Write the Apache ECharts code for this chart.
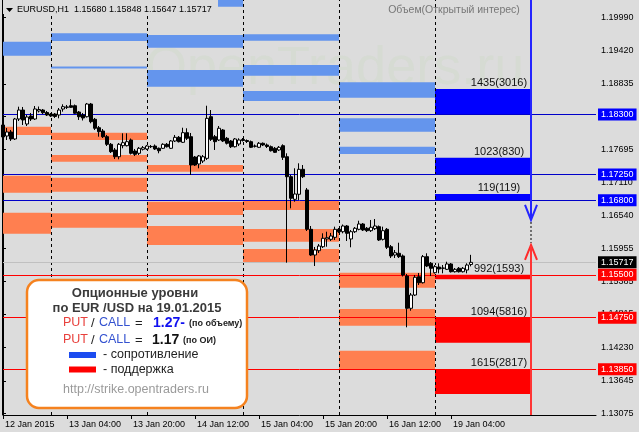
<!DOCTYPE html>
<html><head><meta charset="utf-8">
<script src="https://cdn.jsdelivr.net/npm/echarts@6/dist/echarts.min.js"></script>
<style>html,body{margin:0;padding:0;background:#dcdcdc}#c{width:639px;height:432px}</style>
</head><body><div id="c"></div>
<script>
// ---------- DATA ----------
const symbolTitle = 'EURUSD,H1';
const xLabels = ['12 Jan 2015','13 Jan 04:00','13 Jan 20:00','14 Jan 12:00','15 Jan 04:00','15 Jan 20:00','16 Jan 12:00','19 Jan 04:00'];
const xLabelBars = [0,16,32,48,64,80,96,112];
const yTicks = [1.19990,1.19420,1.18835,1.18265,1.17695,1.17110,1.16540,1.15955,1.15385,1.14815,1.14230,1.13645,1.13075];
const daySeparators = [12,36,60,84,108];
const dayBounds = [0,12,36,60,84,108,132];
// hourly candles: [open, close, low, high]
const ohlc = [
[1.18116,1.17907,1.17872,1.18169],[1.17924,1.17994,1.17854,1.18064],[1.17994,1.17872,1.17837,1.18029],[1.17872,1.18221,1.17854,1.18239],
[1.18221,1.18378,1.18186,1.18436],[1.18378,1.18204,1.18116,1.18431],[1.18134,1.18256,1.18099,1.18291],[1.18273,1.18221,1.18186,1.18326],
[1.18221,1.18396,1.18204,1.18448],[1.18361,1.18387,1.18335,1.18439],[1.18378,1.18331,1.18308,1.18396],[1.18335,1.18291,1.18273,1.18361],
[1.18308,1.18273,1.18256,1.18326],[1.18308,1.18265,1.18239,1.18326],[1.18291,1.18378,1.18233,1.18413],[1.18396,1.18436,1.18349,1.18478],
[1.18425,1.18431,1.18396,1.18466],[1.18453,1.18425,1.18413,1.18565],[1.18453,1.18321,1.18308,1.18474],[1.18343,1.18261,1.18204,1.18361],
[1.18291,1.18239,1.18195,1.18326],[1.18261,1.18483,1.18247,1.18501],[1.18483,1.18174,1.18146,1.18501],[1.18216,1.18059,1.18029,1.18239],
[1.18069,1.17999,1.17912,1.18099],[1.18011,1.17912,1.17889,1.18046],[1.17912,1.17779,1.17749,1.17942],[1.17779,1.17650,1.17627,1.17802],
[1.17680,1.17562,1.17522,1.17714],[1.17562,1.17779,1.17517,1.17802],[1.17755,1.17807,1.17709,1.17971],[1.17755,1.17825,1.17741,1.17971],
[1.17854,1.17622,1.17601,1.17880],[1.17662,1.17604,1.17575,1.17697],[1.17622,1.17709,1.17592,1.17732],[1.17692,1.17720,1.17671,1.17749],
[1.17697,1.17749,1.17680,1.17767],[1.17737,1.17741,1.17714,1.17767],[1.17749,1.17697,1.17680,1.17776],[1.17709,1.17667,1.17622,1.17723],
[1.17709,1.17779,1.17697,1.17797],[1.17779,1.17737,1.17723,1.17802],[1.17709,1.17837,1.17697,1.17854],[1.17837,1.17901,1.17819,1.17942],
[1.17901,1.17825,1.17811,1.17924],[1.17814,1.17982,1.17802,1.18069],[1.17982,1.17884,1.17854,1.18059],[1.17912,1.17417,1.17243,1.17977],
[1.17557,1.17417,1.17400,1.17575],[1.17435,1.17575,1.17360,1.17592],[1.17487,1.17562,1.17452,1.17592],[1.17534,1.18233,1.17505,1.18453],
[1.18261,1.17866,1.17837,1.18378],[1.17912,1.17825,1.17680,1.17942],[1.17854,1.18059,1.17837,1.18099],[1.18029,1.17837,1.17819,1.18046],
[1.17884,1.17797,1.17776,1.17907],[1.17837,1.17737,1.17714,1.17854],[1.17737,1.17872,1.17723,1.17889],[1.17784,1.17854,1.17749,1.17884],
[1.17863,1.17845,1.17828,1.17889],[1.17845,1.17828,1.17802,1.17863],[1.17825,1.17727,1.17714,1.17845],[1.17744,1.17749,1.17723,1.17776],
[1.17727,1.17797,1.17714,1.17819],[1.17797,1.17767,1.17749,1.17811],[1.17767,1.17741,1.17714,1.17793],[1.17737,1.17667,1.17653,1.17758],
[1.17709,1.17639,1.17627,1.17732],[1.17680,1.17727,1.17662,1.17749],[1.17755,1.17552,1.17505,1.17779],[1.17562,1.17213,1.15711,1.17622],
[1.17213,1.16836,1.16661,1.17243],[1.16818,1.16911,1.16776,1.17360],[1.16906,1.17342,1.16806,1.17447],[1.17342,1.17213,1.17190,1.17417],
[1.16981,1.16294,1.16264,1.17016],[1.16294,1.15845,1.15828,1.16352],[1.15845,1.15933,1.15653,1.15985],[1.15920,1.16002,1.15880,1.16037],
[1.15990,1.16137,1.15967,1.16224],[1.16125,1.16147,1.15990,1.16252],[1.16119,1.16177,1.16090,1.16230],[1.16154,1.16294,1.16107,1.16340],
[1.16294,1.16252,1.16230,1.16317],[1.16252,1.16352,1.16224,1.16378],[1.16352,1.16224,1.16090,1.16369],[1.16125,1.16252,1.15980,1.16282],
[1.16252,1.16312,1.16230,1.16334],[1.16294,1.16387,1.16277,1.16444],[1.16387,1.16282,1.16264,1.16404],[1.16312,1.16270,1.16247,1.16334],
[1.16270,1.16329,1.16247,1.16457],[1.16305,1.16352,1.16282,1.16474],[1.16340,1.16107,1.16090,1.16361],[1.16119,1.16270,1.16098,1.16340],
[1.16294,1.15980,1.15950,1.16317],[1.15990,1.15828,1.15793,1.16020],[1.15845,1.15885,1.15793,1.15933],[1.15875,1.15816,1.15793,1.16060],
[1.15828,1.15496,1.15470,1.15854],[1.15478,1.14914,1.14582,1.15513],[1.14914,1.15146,1.14872,1.15181],[1.15146,1.15456,1.15129,1.15496],
[1.15466,1.15361,1.15321,1.15531],[1.15361,1.15816,1.15347,1.15845],[1.15816,1.15653,1.15635,1.15875],[1.15700,1.15613,1.15478,1.15723],
[1.15536,1.15641,1.15522,1.15670],[1.15635,1.15601,1.15525,1.15700],[1.15613,1.15618,1.15525,1.15670],[1.15595,1.15688,1.15583,1.15728],
[1.15688,1.15553,1.15539,1.15705],[1.15553,1.15595,1.15539,1.15618],[1.15613,1.15553,1.15539,1.15635],[1.15553,1.15613,1.15539,1.15635],
[1.15583,1.15670,1.15525,1.15700],[1.15680,1.15717,1.15647,1.15848]
];
// option zones of previous days: [day, low, high]
const callZones = [
[0,1.19327,1.19572],[1,1.19584,1.19718],[1,1.19103,1.19138],
[2,1.20183,1.20300],[2,1.19467,1.19689],[2,1.18785,1.19077],
[3,1.19589,1.19701],[3,1.18978,1.19164],[3,1.18536,1.18710],
[4,1.18593,1.18862],[4,1.17999,1.18233],[4,1.17610,1.17737]
];
const putZones = [
[0,1.17942,1.18087],[0,1.16933,1.17230],[0,1.16217,1.16584],
[1,1.17854,1.17982],[1,1.17475,1.17592],[1,1.16951,1.17196],[1,1.16322,1.16574],
[2,1.17300,1.17417],[2,1.16544,1.16776],[2,1.16020,1.16352],
[3,1.16631,1.16788],[3,1.16078,1.16299],[3,1.15711,1.15950],
[4,1.15274,1.15536],[4,1.14610,1.14902],[4,1.13848,1.14173]
];
// current day (19.01.2015)
const callLevels = [1.18300,1.17250,1.16800];
const callTops = [1.18745,1.17545,1.16911];
const callLabels = ['1435(3016)','1023(830)','119(119)'];
const putLevels = [1.15500,1.14750,1.13850];
const putBottoms = [1.15421,1.14313,1.13417];
const putLabels = ['992(1593)','1094(5816)','1615(2817)'];
const lastPrice = 1.15717;
const arrowBar = 132;
const arrowDownTip = 1.16457;
const arrowUpTip = 1.16020;
const ratioVolume = '1.27-';
const ratioOI = '1.17';
// ---------- CHART ----------
const F = 'Liberation Sans, Arial, sans-serif';
const AX = 9;
const chart = echarts.init(document.getElementById('c'), null, {renderer:'canvas'});
const zoneData = [];
callZones.forEach(z => zoneData.push([dayBounds[z[0]], dayBounds[z[0]+1], z[1], z[2], 0]));
putZones.forEach(z => zoneData.push([dayBounds[z[0]], dayBounds[z[0]+1], z[1], z[2], 1]));
const cd = 5;
callLevels.forEach((l,i) => zoneData.push([dayBounds[cd], dayBounds[cd+1], l, callTops[i], 2]));
putLevels.forEach((l,i) => zoneData.push([dayBounds[cd], dayBounds[cd+1], putBottoms[i], l, 3]));
const zoneColors = ['#6495ed','#ff7f50','#0000ff','#ff0000'];
const labelData = [];
callLevels.forEach((l,i) => labelData.push([124, callTops[i], callLabels[i]]));
putLevels.forEach((l,i) => labelData.push([124, l, putLabels[i]]));

function levelLine(v, lineColor, bg){
  return {yAxis:v, lineStyle:{color:lineColor,width:1,type:'solid'},
    label:{show:true, position:'end', distance:2, formatter: v.toFixed(5), color:'#fff', backgroundColor:bg,
      padding:[2,3,1,3], fontSize:AX, fontFamily:F, lineHeight:9}};
}
const markData = [];
daySeparators.forEach(d => markData.push({xAxis:d, lineStyle:{color:'#000',width:1,type:[3,3]}, label:{show:false}}));
markData.push(levelLine(lastPrice,'#c0c0c0','#000000'));
callLevels.forEach(v => markData.push(levelLine(v,'#0000c8','#0000ff')));
putLevels.forEach(v => markData.push(levelLine(v,'#ff0000','#ff0000')));

const last = ohlc[ohlc.length-1];
const header = symbolTitle + '  ' + [last[0], last[3], last[2], last[1]].map(v=>v.toFixed(5)).join(' ');

const option = {
  backgroundColor:'#dcdcdc',
  animation:false,
  grid:{left:3, right:43, top:0, bottom:17, containLabel:false},
  xAxis:{type:'value', min:0, max:148.25,
    axisLine:{show:true, lineStyle:{color:'#000',width:1}},
    axisTick:{show:true, customValues:xLabelBars, length:4, lineStyle:{color:'#000'}},
    axisLabel:{customValues:xLabelBars, formatter:v => xLabels[xLabelBars.indexOf(v)], align:'left', padding:[0,0,0,2],
      margin:5, fontSize:AX, fontFamily:F, color:'#000'},
    splitLine:{show:false}},
  yAxis:{type:'value', position:'right', min:1.1305, max:1.2030,
    axisLine:{show:true, lineStyle:{color:'#000',width:1}},
    axisTick:{show:true, customValues:yTicks, length:3, lineStyle:{color:'#000'}},
    axisLabel:{customValues:yTicks, formatter:v => v.toFixed(5), margin:5, fontSize:AX, fontFamily:F, color:'#000'},
    splitLine:{show:false}},
  series:[
    {type:'custom', z:1, clip:true, silent:true, data:zoneData,
     renderItem:(params, api) => {
       const p1 = api.coord([api.value(0), api.value(3)]);
       const p2 = api.coord([api.value(1), api.value(2)]);
       return {type:'rect', shape:{x:p1[0], y:p1[1], width:p2[0]-p1[0], height:p2[1]-p1[1]},
         style:{fill:zoneColors[api.value(4)]}};
     }},
    {type:'line', data:[], z:2, silent:true,
     markLine:{symbol:'none', silent:true, animation:false, precision:5, data:markData}},
    {type:'candlestick', z:5, silent:true, barWidth:3,
     data:ohlc.map((d,i)=>[i,d[0],d[1],d[2],d[3]]), encode:{x:0, y:[1,2,3,4]},
     itemStyle:{color:'#ffffff', color0:'#000000', borderColor:'#000000', borderColor0:'#000000', borderWidth:1}},
    {type:'custom', z:6, silent:true, data:labelData,
     renderItem:(params, api) => {
       const p = api.coord([api.value(0), api.value(1)]);
       return {type:'text', x:p[0], y:p[1]-6,
         style:{text:labelData[params.dataIndex][2], fill:'#111', font:'11px ' + F, align:'center', verticalAlign:'middle'}};
     }},
    {type:'custom', z:7, silent:true, data:[[arrowBar, arrowDownTip, arrowUpTip]],
     renderItem:(params, api) => {
       const x = api.coord([api.value(0), api.value(1)])[0];
       const yb = api.coord([api.value(0), api.value(1)])[1];
       const yr = api.coord([api.value(0), api.value(2)])[1];
       const cs = params.coordSys;
       return {type:'group', children:[
         {type:'line', shape:{x1:x, y1:cs.y, x2:x, y2:yb-1}, style:{stroke:'#2525ff', lineWidth:2}},
         {type:'polyline', shape:{points:[[x-6,yb-15],[x,yb],[x+6,yb-15]]}, style:{stroke:'#2525ff', lineWidth:2, fill:null}},
         {type:'line', shape:{x1:x, y1:yb+2, x2:x, y2:yr-2}, style:{stroke:'#000', lineWidth:1, lineDash:[2,2]}},
         {type:'polyline', shape:{points:[[x-6,yr+15],[x,yr],[x+6,yr+15]]}, style:{stroke:'#ff2a2a', lineWidth:2, fill:null}},
         {type:'line', shape:{x1:x, y1:yr+1, x2:x, y2:cs.y+cs.height}, style:{stroke:'#ff3535', lineWidth:2}}
       ]};
     }}
  ],
  graphic:[
    {type:'text', z:0, left:145, top:42, silent:true,
     style:{text:'OpenTraders.ru', font:'54px ' + F, fill:'rgba(170,215,150,0.12)'}},
    {type:'rect', z:100, shape:{x:3, y:0, width:215, height:14}, style:{fill:'#dcdcdc'}},
    {type:'polygon', z:101, shape:{points:[[6,8],[13,8],[9.5,12]]}, style:{fill:'#000'}},
    {type:'text', z:101, x:17, y:10, style:{text:header, font:AX+'px '+F, fill:'#000', verticalAlign:'middle'}},
    {type:'text', z:101, x:454, y:10.5, style:{text:'Объем(Открытый интерес)', font:'10.5px '+F, fill:'#777', align:'center', verticalAlign:'middle'}},
    {type:'group', z:110, children:[
      {type:'rect', z:110, shape:{x:27, y:280, width:220, height:128, r:12}, style:{fill:'#fff', stroke:'#f5821f', lineWidth:2.5}},
      {type:'text', z:111, x:135, y:293, style:{text:'Опционные уровни', font:'bold 13px '+F, fill:'#3a3a3a', align:'center', verticalAlign:'middle'}},
      {type:'text', z:111, x:137, y:308, style:{text:'по EUR /USD на 19.01.2015', font:'bold 13px '+F, fill:'#3a3a3a', align:'center', verticalAlign:'middle'}},
      {type:'text', z:111, x:63, y:323, style:{text:'PUT', font:'12.5px '+F, fill:'#e8403c', verticalAlign:'middle'}},
      {type:'text', z:111, x:91, y:323, style:{text:'/', font:'13px '+F, fill:'#222', verticalAlign:'middle'}},
      {type:'text', z:111, x:99, y:323, style:{text:'CALL', font:'12.5px '+F, fill:'#3452d0', verticalAlign:'middle'}},
      {type:'text', z:111, x:135, y:323, style:{text:'=', font:'13px '+F, fill:'#222', verticalAlign:'middle'}},
      {type:'text', z:111, x:153, y:323, style:{text:ratioVolume, font:'bold 14px '+F, fill:'#1010f0', verticalAlign:'middle'}},
      {type:'text', z:111, x:189, y:324, style:{text:'(по объему)', font:'bold 9px '+F, fill:'#222', verticalAlign:'middle'}},
      {type:'text', z:111, x:63, y:340, style:{text:'PUT', font:'12.5px '+F, fill:'#e8403c', verticalAlign:'middle'}},
      {type:'text', z:111, x:91, y:340, style:{text:'/', font:'13px '+F, fill:'#222', verticalAlign:'middle'}},
      {type:'text', z:111, x:99, y:340, style:{text:'CALL', font:'12.5px '+F, fill:'#3452d0', verticalAlign:'middle'}},
      {type:'text', z:111, x:135, y:340, style:{text:'=', font:'13px '+F, fill:'#222', verticalAlign:'middle'}},
      {type:'text', z:111, x:152, y:340, style:{text:ratioOI, font:'bold 14px '+F, fill:'#111', verticalAlign:'middle'}},
      {type:'text', z:111, x:183, y:341, style:{text:'(по ОИ)', font:'bold 9px '+F, fill:'#222', verticalAlign:'middle'}},
      {type:'rect', z:111, shape:{x:69, y:352, width:27, height:6}, style:{fill:'#1c4cf0'}},
      {type:'text', z:111, x:103, y:355, style:{text:'- сопротивление', font:'12.5px '+F, fill:'#222', verticalAlign:'middle'}},
      {type:'rect', z:111, shape:{x:69, y:366.5, width:27, height:6}, style:{fill:'#ff0000'}},
      {type:'text', z:111, x:103, y:369.5, style:{text:'- поддержка', font:'12.5px '+F, fill:'#222', verticalAlign:'middle'}},
      {type:'text', z:111, x:136, y:390, style:{text:'http://strike.opentraders.ru', font:'12.5px '+F, fill:'#9a9a9a', align:'center', verticalAlign:'middle'}}
    ]},
    {type:'line', z:100, shape:{x1:2.5, y1:0, x2:2.5, y2:415}, style:{stroke:'#000', lineWidth:1}}
  ]
};
chart.setOption(option);
</script></body></html>
